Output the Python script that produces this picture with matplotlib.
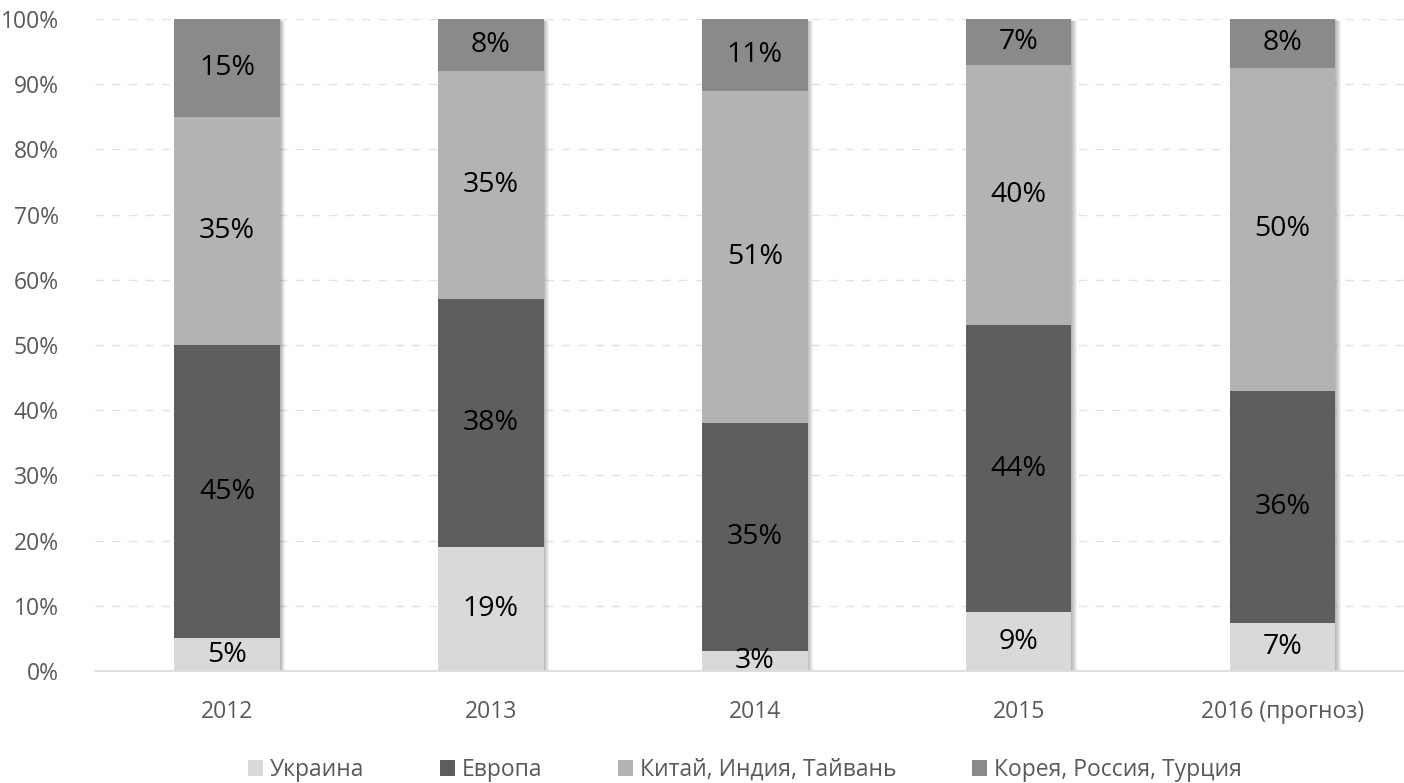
import matplotlib
matplotlib.use("Agg")
import matplotlib.pyplot as plt
import matplotlib.transforms as mtransforms
from matplotlib.patches import Patch
import numpy as np

plt.rcParams['font.family'] = ['Open Sans', 'DejaVu Sans']

categories = ["2012", "2013", "2014", "2015", "2016 (прогноз)"]
series_names = ["Украина", "Европа", "Китай, Индия, Тайвань", "Корея, Россия, Турция"]
ukraine = [5, 19, 3, 9, 7.4]
europe = [45, 38, 35, 44, 35.6]
china = [35, 35, 51, 40, 49.5]
korea = [15, 8, 11, 7, 7.5]
labels = [
    ["5%", "19%", "3%", "9%", "7%"],
    ["45%", "38%", "35%", "44%", "36%"],
    ["35%", "35%", "51%", "40%", "50%"],
    ["15%", "8%", "11%", "7%", "8%"],
]
colors = ["#d9d9d9", "#5e5e5e", "#b3b3b3", "#8a8a8a"]
yticks = [0, 10, 20, 30, 40, 50, 60, 70, 80, 90, 100]

W, H = 1404, 783
fig = plt.figure(figsize=(W / 100, H / 100), dpi=100)
ax = fig.add_axes([95 / W, 1 - 671 / H, (W - 95) / W, (671 - 19) / H])

x = np.arange(len(categories))
width = 0.4
series = [ukraine, europe, china, korea]
totals = np.sum(series, axis=0)

# soft shadow behind bars
for i in range(1, 7):
    tr = mtransforms.offset_copy(ax.transData, fig=fig, x=i * 0.9, y=-i * 0.4, units='dots')
    ax.bar(x, totals, width=width, color='black', alpha=0.05, transform=tr, zorder=1, linewidth=0)

bottom = np.zeros(len(categories))
for vals, col, labs in zip(series, colors, labels):
    vals = np.array(vals, dtype=float)
    ax.bar(x, vals, width=width, bottom=bottom, color=col, zorder=2, linewidth=0)
    for xi, b, v, lab in zip(x, bottom, vals, labs):
        ax.text(xi, b + v / 2, lab, ha='center', va='center', fontsize=20.5, color='black', zorder=3)
    bottom += vals

ax.set_xlim(-0.5, 4.46)
ax.set_ylim(0, 100)
ax.set_yticks(yticks)
ax.set_yticklabels([f"{t}%" for t in yticks])
ax.set_xticks(x)
ax.set_xticklabels(categories)
ax.tick_params(axis='both', length=0, labelsize=16.5, labelcolor='#595959')
ax.tick_params(axis='y', pad=26)
ax.tick_params(axis='x', pad=21)

for t in yticks[1:]:
    ax.axhline(t, color='#dde2ec', lw=1, ls=(0, (6, 6)), zorder=0)
for s in ['top', 'right', 'left']:
    ax.spines[s].set_visible(False)
ax.spines['bottom'].set_color('#d9d9d9')
ax.spines['bottom'].set_linewidth(1.2)
ax.spines['bottom'].set_zorder(4)

handles = [Patch(facecolor=c, edgecolor='none', label=n) for c, n in zip(colors, series_names)]
leg = fig.legend(handles=handles, loc='center', bbox_to_anchor=(745 / W, 1 - 770 / H),
                 ncol=4, frameon=False, fontsize=16.5, handlelength=0.65, handleheight=0.65,
                 handletextpad=0.3, columnspacing=3.3, labelcolor='#595959')

fig.savefig("out.png", dpi=100)
